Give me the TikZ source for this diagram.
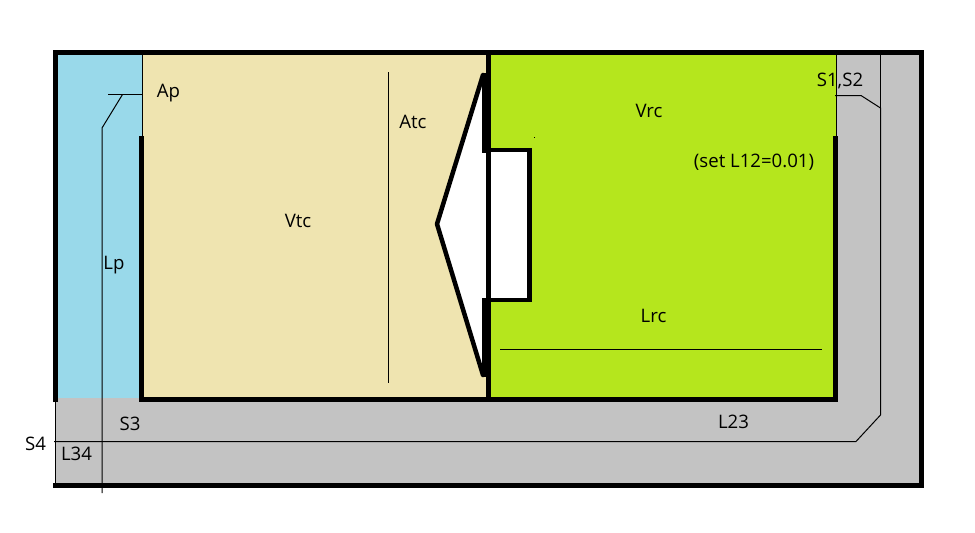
\documentclass[tikz,border=0pt]{standalone}
\usepackage{fontspec}
\setmainfont{Open Sans}
\definecolor{portblue}{RGB}{153,217,234}
\definecolor{tcbeige}{RGB}{239,228,176}
\definecolor{rcgreen}{RGB}{181,230,29}
\definecolor{ductgray}{RGB}{195,195,195}
\tikzset{
  thick wall/.style={line width=5pt,line cap=butt,line join=miter},
  thin wall/.style={line width=1pt},
  lbl/.style={inner sep=0pt,font=\fontsize{18.6}{20}\selectfont,text=black},
}
\begin{document}
\begin{tikzpicture}[x=1pt,y=-1pt]
\useasboundingbox (0,0) rectangle (975,533);
\fill[white] (0,0) rectangle (975,533);
% regions
\fill[ductgray] (55,52) rectangle (922,486);
\fill[portblue] (58,55) rectangle (142,398);
\fill[tcbeige] (142,55) rectangle (488,398);
\fill[rcgreen] (488,55) rectangle (836,398);
\fill[white] (488,150) rectangle (530,300);
% cone
\fill[white] (488,75) -- (483,75) -- (437,224) -- (483,375) -- (488,375) -- cycle;
\draw[line width=4.5pt,line join=round,line cap=round] (483,75) -- (437,224) -- (483,375);
% outer walls
\draw[thick wall] (55.5,402) -- (55.5,52.5) -- (921.5,52.5) -- (921.5,485.5) -- (53,485.5);
\draw[thin wall] (55.5,402) -- (55.5,484);
% inner walls
\draw[thin wall] (142.5,55) -- (142.5,136);
\draw[thin wall] (836,55) -- (836,136);
\draw[thick wall] (141.5,136) -- (141.5,399.5) -- (835.5,399.5) -- (835.5,136);
\draw[thick wall] (488.5,55) -- (488.5,399);
% magnet and pole
\fill (482,73) -- (491,73) -- (491,152.5) -- (482,152.5) -- cycle;
\fill (482,298) -- (491,298) -- (491,377) -- (482,377) -- cycle;
\draw[line width=4.5pt,line join=miter] (488,150.2) -- (529.5,150.2) -- (529.5,300) -- (488,300);
\fill (534,137) rectangle (535,138);
% dimension lines
\coordinate (lpTop) at (102,128);
\coordinate (lpBot) at (102,493);
\draw[thin wall] (108,94.5) -- (143,94.5);
\draw[thin wall] (122.5,94.5) -- (lpTop) -- (lpBot);
\draw[thin wall] (54,441.5) -- (856,441.5) -- (880.5,415) -- (880.5,108) -- (861,95.5) -- (835,95.5);
\draw[thin wall] (880.5,108) -- (880.5,55);
\draw[thin wall] (388.5,72) -- (388.5,383);
\draw[thin wall] (500,349.5) -- (822,349.5);
% labels
\node[lbl] (ap) at (168.5,93.3) {Ap};
\node[lbl] (atc) at (413,122.3) {Atc};
\node[lbl] (vtc) at (298,221.3) {Vtc};
\node[lbl] (lp) at (114,265.3) {Lp};
\node[lbl] (vrc) at (649,111.3) {Vrc};
\node[lbl] (set) at (754,162) {(set L12=0.01)};
\node[lbl] (lrc) at (653.5,316) {Lrc};
\node[lbl] (s12) at (840,80.5) {S1,S2};
\node[lbl] (l23) at (733.5,421.8) {L23};
\node[lbl] (s3) at (130,424.3) {S3};
\node[lbl] (s4) at (35.5,444.3) {S4};
\node[lbl] (l34) at (76.5,454.3) {L34};
\end{tikzpicture}
\end{document}
